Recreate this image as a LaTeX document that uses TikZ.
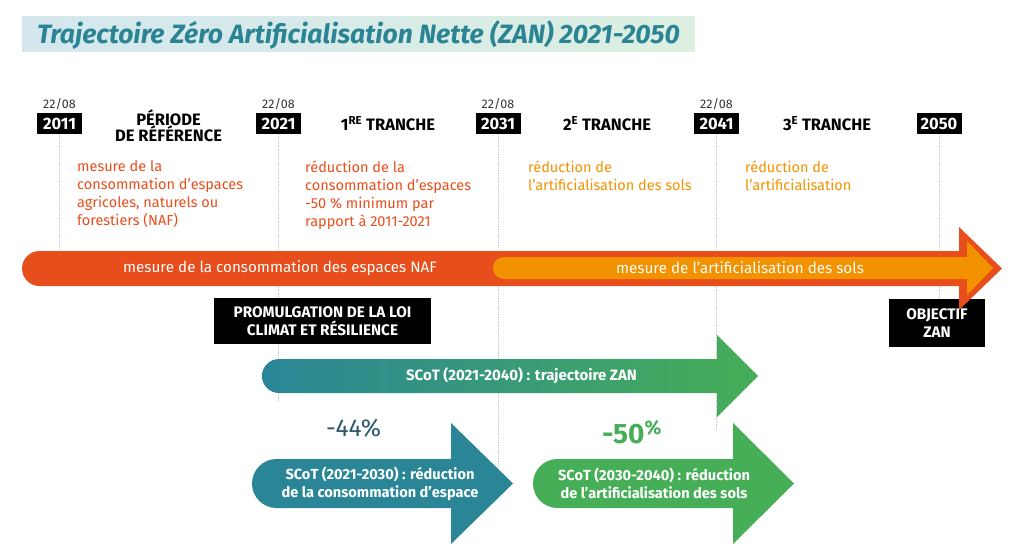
\documentclass[tikz,border=0pt]{standalone}
\usepackage{fontspec}
\setmainfont{Fira Sans}
\definecolor{redc}{HTML}{E84E1B}
\definecolor{orangec}{HTML}{F39200}
\definecolor{tealc}{HTML}{2A8697}
\definecolor{greenc}{HTML}{46AE57}
\definecolor{titlec}{HTML}{2A8494}
\definecolor{darkteal}{HTML}{2E5968}
\definecolor{bannerL}{HTML}{D4E7EE}
\definecolor{bannerR}{HTML}{DCEFE1}
\definecolor{dotc}{HTML}{C8C8C8}
\begin{document}
\begin{tikzpicture}[x=1pt,y=-1pt,
  yearbox/.style={fill=black, text=white, font=\fontsize{16.5}{18}\selectfont\bfseries, minimum width=45pt, minimum height=20pt, inner sep=0pt},
  datelbl/.style={text=black!80, font=\fontsize{12.5}{15}\selectfont, inner sep=0pt},
  header/.style={text=black, font=\fontsize{16.5}{16.5}\selectfont\bfseries, align=center, inner sep=0pt},
  redtxt/.style={text=redc, font=\fontsize{14.5}{18}\selectfont, align=left, anchor=north west, inner sep=0pt},
  oratxt/.style={text=orangec, font=\fontsize{14.5}{18}\selectfont, align=left, anchor=north west, inner sep=0pt},
  bartxt/.style={text=white, font=\fontsize{15.2}{17}\selectfont, inner sep=0pt},
  blackbox/.style={fill=black, text=white, font=\fontsize{15.3}{18}\selectfont\bfseries, align=center, inner sep=0pt},
  scottxt/.style={text=white, font=\fontsize{14.6}{18}\selectfont\bfseries, align=center, inner sep=0pt},
  dotline/.style={draw=dotc, densely dotted, line width=0.8pt}
]
\useasboundingbox (0,0) rectangle (1024,559);

% title banner
\shade[left color=bannerL, right color=bannerR] (22,17) rectangle (695,52);
\node[text=titlec, font=\fontsize{26.5}{30}\selectfont\bfseries\itshape, inner sep=0pt] (title) at (358.5,35) {Trajectoire Zéro Artificialisation Nette (ZAN) 2021-2050};

% year boxes
\node[yearbox] (y2011) at (59.5,123.5) {2011};
\node[yearbox] (y2021) at (278.5,123.5) {2021};
\node[yearbox] (y2031) at (498,123.5) {2031};
\node[yearbox] (y2041) at (716.5,123.5) {2041};
\node[yearbox] (y2050) at (939,123.5) {2050};

\node[datelbl] (d2011) at (59.5,104) {22/08};
\node[datelbl] (d2021) at (278.5,104) {22/08};
\node[datelbl] (d2031) at (498,104) {22/08};
\node[datelbl] (d2041) at (716.5,104) {22/08};

% dotted guides
\draw[dotline] (y2011.south) -- ++(0,117);
\draw[dotline] (y2021.south) -- ++(0,268);
\draw[dotline] (y2031.south) -- ++(0,334);
\draw[dotline] (y2041.south) -- ++(0,296);
\draw[dotline] (y2050.south) -- ++(0,166);

% headers
\node[header] (h0) at (168.5,126) {PÉRIODE\\DE RÉFÉRENCE};
\node[header] (h1) at (388,124) {1\textsuperscript{RE} TRANCHE};
\node[header] (h2) at (607,124) {2\textsuperscript{E} TRANCHE};
\node[header] (h3) at (827,124) {3\textsuperscript{E} TRANCHE};

% descriptions
\node[redtxt] (t0) at (77,160.5) {mesure de la\\consommation d’espaces\\agricoles, naturels ou\\forestiers (NAF)};
\node[redtxt] (t1) at (305,160.5) {réduction de la\\consommation d’espaces\\-50 \% minimum par\\rapport à 2011-2021};
\node[oratxt] (t2) at (528,160.5) {réduction de\\l’artificialisation des sols};
\node[oratxt] (t3) at (745,160.5) {réduction de\\l’artificialisation};

% black boxes
\node[blackbox, minimum width=217pt, minimum height=46pt] (loi) at (322.5,321) {PROMULGATION DE LA LOI\\CLIMAT ET RÉSILIENCE};
\node[blackbox, minimum width=96pt, minimum height=48pt] (zan) at (937,323) {OBJECTIF\\ZAN};

% main arrow
\fill[redc] (39.5,251) -- (959,251) -- (959,227) -- (1002,268.5) -- (959,310) -- (959,286) -- (39.5,286) arc[start angle=90,end angle=270,radius=17.5] -- cycle;
\fill[orangec] (504,257) -- (967,257) -- (967,241) -- (993,268) -- (967,295) -- (967,279) -- (504,279) arc[start angle=90,end angle=270,radius=11] -- cycle;
\node[bartxt] (naf) at (280,268) {mesure de la consommation des espaces NAF};
\node[bartxt] (arti) at (740,268) {mesure de l’artificialisation des sols};

% SCoT 2021-2040
\shade[left color=tealc, right color=greenc] (279,359) -- (717,359) -- (717,335) -- (758,376) -- (717,417) -- (717,393) -- (279,393) arc[start angle=90,end angle=270,radius=17] -- cycle;
\node[scottxt, font=\fontsize{15}{17}\selectfont\bfseries] (scot1) at (521.5,376) {SCoT (2021-2040) : trajectoire ZAN};

% percentages
\node[text=darkteal, font=\fontsize{24.5}{28}\selectfont, inner sep=0pt] (p44) at (353.5,428) {-44\%};
\node[text=greenc, font=\fontsize{28}{32}\selectfont\bfseries, inner sep=0pt] (p50) at (632,432) {-50\textsuperscript{\%}};

% SCoT 2021-2030
\fill[tealc] (276.5,459) -- (451,459) -- (451,423) -- (513,483.5) -- (451,544) -- (451,508) -- (276.5,508) arc[start angle=90,end angle=270,radius=24.5] -- cycle;
\node[scottxt] (scot2) at (380,483.5) {SCoT (2021-2030) : réduction\\de la consommation d’espace};

% SCoT 2030-2040
\fill[greenc] (557.5,459) -- (733,459) -- (733,423) -- (794,483.5) -- (733,544) -- (733,508) -- (557.5,508) arc[start angle=90,end angle=270,radius=24.5] -- cycle;
\node[scottxt] (scot3) at (654,483.5) {SCoT (2030-2040) : réduction\\de l’artificialisation des sols};
\end{tikzpicture}
\end{document}
